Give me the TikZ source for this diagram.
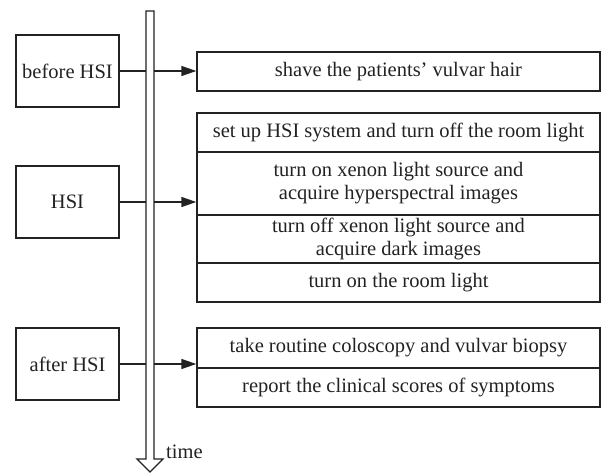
\documentclass[tikz,border=0pt]{standalone}
\usepackage{fontspec}
\setmainfont{Liberation Serif}
\usetikzlibrary{arrows.meta,calc}
\definecolor{ink}{HTML}{222222}
\newcommand{\labelsize}{\fontsize{20.5}{23}\selectfont}
\tikzset{
  phase/.style={draw=ink, line width=1.4pt, minimum width=103pt, minimum height=72pt,
    inner sep=0pt, font=\labelsize, text=ink},
  stepbox/.style={draw=ink, line width=1.4pt, minimum width=403pt, inner sep=0pt,
    align=center, font=\labelsize, text=ink},
  link/.style={draw=ink, line width=1.4pt},
  feed/.style={draw=ink, line width=1.4pt, -{Triangle[length=15pt,width=10pt]}},
}
\begin{document}
\begin{tikzpicture}[x=1pt,y=-1pt]
\useasboundingbox (0,0) rectangle (602,473);

% phases on the left
\node[phase] (before) at (67.5,71) {before HSI};
\node[phase] (hsi)    at (67.5,202) {HSI};
\node[phase] (after)  at (67.5,364) {after HSI};

% steps on the right
\node[stepbox, minimum height=39pt] (shave) at (398.5,71.5) {shave the patients' vulvar hair};

\node[stepbox, minimum height=39pt] (s1) at (398.5,132.5) {set up HSI system and turn off the room light};
\node[stepbox, minimum height=63pt] (s2) at (398.5,183.5) {turn on xenon light source and\\ acquire hyperspectral images};
\node[stepbox, minimum height=48pt] (s3) at (398.5,239) {turn off xenon light source and\\acquire dark images};
\node[stepbox, minimum height=39pt] (s4) at (398.5,282.5) {turn on the room light};

\node[stepbox, minimum height=40pt] (a1) at (398.5,348) {take routine coloscopy and vulvar biopsy};
\node[stepbox, minimum height=39pt] (a2) at (398.5,387.5) {report the clinical scores of symptoms};

% time axis
\coordinate (tl) at (146,0);
\coordinate (tr) at (154,0);
\draw[draw=ink, line width=1.4pt, line join=miter]
  (146,11) -- (154,11) -- (154,459) -- (163,459) -- (150,472) -- (137,459) -- (146,459) -- cycle;
\node[anchor=base west, inner sep=0pt, font=\labelsize, text=ink] (time) at (166,458) {time};

% connectors crossing the axis
\foreach \p/\s in {before/shave, hsi/s2, after/a1}{
  \draw[link] (\p.east) -- (\p.east -| tl);
  \draw[feed] (\p.east -| tr) -- (\p.east -| \s.west);
}
\end{tikzpicture}
\end{document}
